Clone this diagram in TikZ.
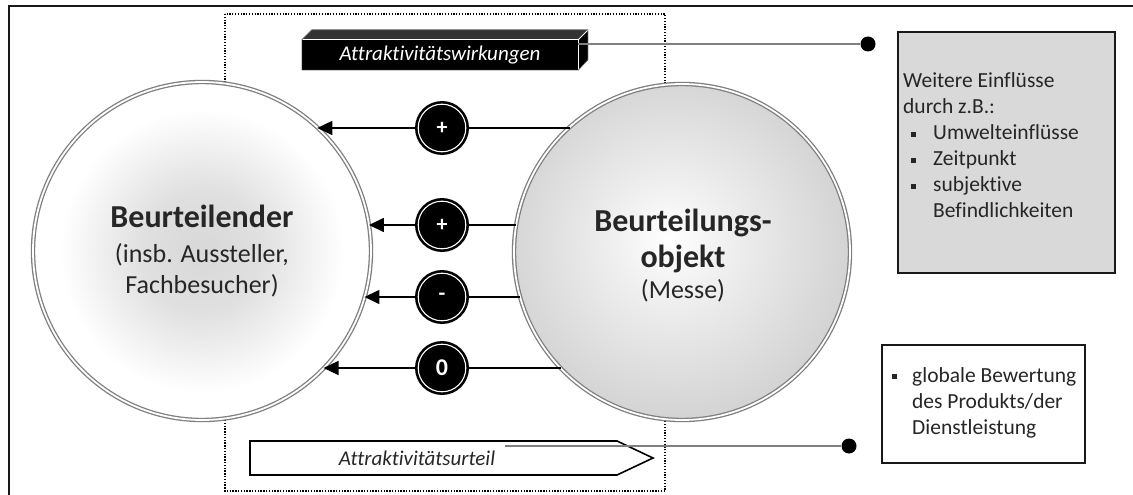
\documentclass[tikz,border=0pt]{standalone}
\usepackage{fontspec}
\setmainfont{Carlito}[Ligatures={NoCommon,NoContextual}]
\usetikzlibrary{arrows.meta}
\definecolor{txt}{HTML}{262626}
\definecolor{ringc}{HTML}{7F7F7F}
\definecolor{lc0}{HTML}{D8D8D8}
\definecolor{lc1}{HTML}{E0E0E0}
\definecolor{rc0}{HTML}{F2F2F2}
\definecolor{rc1}{HTML}{D3D3D3}
\definecolor{boxg}{HTML}{D9D9D9}
\definecolor{glc}{HTML}{808080}
\pgfdeclareradialshading{lshade}{\pgfpoint{0bp}{0bp}}{color(0bp)=(lc0); color(9bp)=(lc1); color(21bp)=(white); color(50bp)=(white)}
\pgfdeclareradialshading{rshade}{\pgfpoint{-2bp}{2bp}}{color(0bp)=(white); color(7bp)=(rc0); color(26bp)=(rc1); color(50bp)=(rc1)}
\newcommand\sqb{\rule[3pt]{5pt}{5pt}}
\begin{document}
\begin{tikzpicture}[x=1pt,y=-1pt,
  big/.style={circle, draw=ringc, double=white, double distance=1.8pt, line width=1.3pt, inner sep=0pt, outer sep=0pt},
  sign/.style={circle, fill=black, minimum size=54pt, inner sep=0pt, text=white,
    font=\bfseries\fontsize{22}{22}\selectfont,
    path picture={\draw[white,line width=1.1pt] (path picture bounding box.center) circle (23.8pt);}},
  conn/.style={line width=1.5pt, black},
  arr/.style={conn, -{Triangle[length=15pt,width=14pt]}},
  gl/.style={line width=1.2pt, glc},
  dot/.style={circle, fill=black, minimum size=15pt, inner sep=0pt},
  small/.style={font=\fontsize{21.5}{26}\selectfont, text=txt, inner sep=0pt, align=left, anchor=north west},
  bold/.style={anchor=base, text=txt, inner sep=0pt, font=\bfseries\fontsize{32}{32}\selectfont},
  reg/.style={anchor=base, text=txt, inner sep=0pt, font=\fontsize{26}{26}\selectfont},
]
\useasboundingbox (0,0) rectangle (1133,495);
\fill[white] (0,0) rectangle (1133,495);
% outer frame
\draw[line width=2pt, black!90] (9,500) -- (9,6) -- (1140,6);
% dotted frame
\draw[line width=1.3pt, dash pattern=on 1.3pt off 1.5pt] (225,14) rectangle (665,491);
% circles
\node[big, shade, shading=lshade, minimum size=338pt] (L) at (202,251) {};
\node[big, shade, shading=rshade, minimum size=336pt] (R) at (682,252) {};
\node[bold] (lt1) at (202,227) {Beurteilender};
\node[reg] (lt2) at (202,262) {(insb. Aussteller,};
\node[reg] (lt3) at (202,293) {Fachbesucher)};
\node[bold] (rt1) at (683,231) {Beurteilungs-};
\node[bold] (rt2) at (683,267) {objekt};
\node[reg] (rt3) at (683,298) {(Messe)};
% signs
\node[sign] (s1) at (442,128) {+};
\node[sign] (s2) at (442,225) {+};
\node[sign] (s3) at (442,297) {-};
\node[sign, font=\bfseries\fontsize{24}{24}\selectfont] (s4) at (442,368) {0};
\draw[conn] (R.132 |- s1) -- (s1);
\draw[arr] (s1) -- (L.47 |- s1);
\draw[conn] (R.171 |- s2) -- (s2);
\draw[arr] (s2) -- (L.9 |- s2);
\draw[conn] (R.195 |- s3) -- (s3);
\draw[arr] (s3) -- (L.344 |- s3);
\draw[conn] (R.224 |- s4) -- (s4);
\draw[arr] (s4) -- (L.316 |- s4);
% 3D box
\node[fill=black, minimum width=276pt, minimum height=30pt, inner sep=0pt, text=white,
  font=\itshape\fontsize{21}{21}\selectfont] (wirk) at (440,55) {Attraktivitätswirkungen};
\fill[black!80] (wirk.north west) -- ++(10,-10) -- ++(276,0) -- (wirk.north east) -- cycle;
\fill[black] (wirk.north east) -- ++(10,-10) -- ++(0,30) -- (wirk.south east) -- cycle;
\draw[white, line width=0.8pt] (wirk.north west) -- (wirk.north east) -- (wirk.south east);
\draw[white, line width=0.8pt] (wirk.north east) -- ++(10,-10);
\draw[black!60, line width=0.6pt] (wirk.south west) -- (wirk.north west) -- ++(10,-10) -- ++(276,0) -- ++(0,30) -- (wirk.south east) -- cycle;
\node[dot] (d1) at (868,44) {};
\draw[gl] (wirk.east |- d1) -- (d1);
% Urteil arrow
\draw[line width=1.6pt, fill=white] (250,441) -- (617,441) -- (653,458) -- (617,475) -- (250,475) -- cycle;
\node[anchor=center, text=txt, inner sep=0pt, font=\itshape\fontsize{21}{21}\selectfont] (urt) at (417,458) {Attraktivitätsurteil};
\coordinate (ustart) at (505,446);
\node[dot] (d2) at (849,446) {};
\draw[gl] (ustart) -- (d2);
% grey box
\node[draw=black!90, line width=1.5pt, fill=boxg, minimum width=217pt, minimum height=241pt, inner sep=0pt] (wb) at (1006.5,152.5) {};
\node[small] (wbt) at (903,72.5) {\rule{0pt}{15pt}Weitere Einflüsse\\
durch z.B.:\\
\makebox[30pt][l]{\hspace*{8pt}\sqb}Umwelteinflüsse\\
\makebox[30pt][l]{\hspace*{8pt}\sqb}Zeitpunkt\\
\makebox[30pt][l]{\hspace*{8pt}\sqb}subjektive\\
\hspace*{30pt}Befindlichkeiten};
% white box
\node[draw=black!90, line width=1.5pt, fill=white, minimum width=203pt, minimum height=118pt, inner sep=0pt] (gb) at (983.5,404) {};
\node[small] (gbt) at (892,367) {\rule{0pt}{15pt}\makebox[20pt][l]{\sqb}globale Bewertung\\
\hspace*{20pt}des Produkts/der\\
\hspace*{20pt}Dienstleistung};
\end{tikzpicture}
\end{document}
